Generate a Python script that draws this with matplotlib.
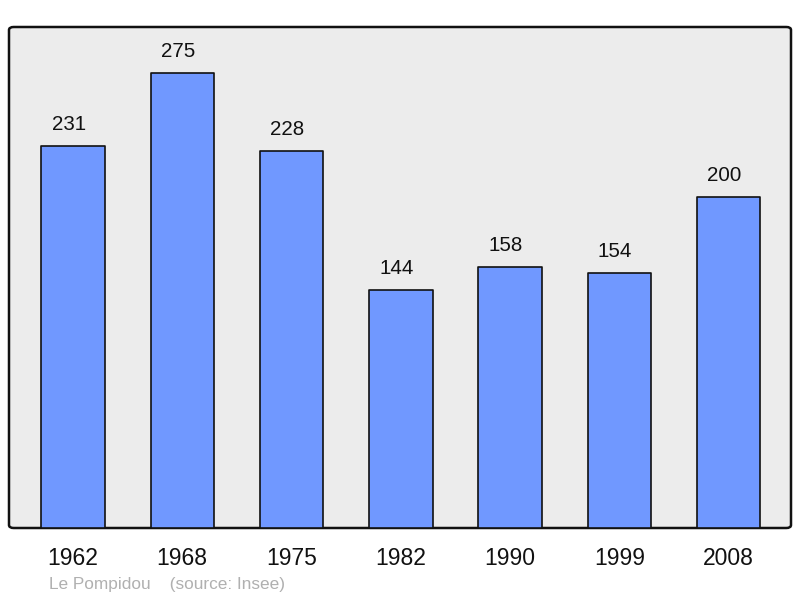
import matplotlib.pyplot as plt
from matplotlib.patches import FancyBboxPatch

years = ["1962", "1968", "1975", "1982", "1990", "1999", "2008"]
population = [231, 275, 228, 144, 158, 154, 200]

plt.rcParams['font.family'] = ['Liberation Sans', 'DejaVu Sans']

fig = plt.figure(figsize=(8, 5.98), dpi=100)
ax = fig.add_axes([9 / 800, 1 - 528 / 598, 782 / 800, 501 / 598])
ax.set_facecolor('none')

# rounded grey frame
frame = FancyBboxPatch((0, 0), 1, 1, boxstyle="round,pad=0,rounding_size=0.006",
                       transform=ax.transAxes, facecolor='#ececec',
                       edgecolor='#111111', linewidth=1.8, zorder=0, clip_on=False)
ax.add_patch(frame)

x = range(len(years))
bars = ax.bar(x, population, width=0.58, color='#7098ff', edgecolor='#111111',
              linewidth=1.2, zorder=2)
for b in bars:
    b.set_joinstyle('round')

for xi, v in zip(x, population):
    ax.text(xi - 0.04, v + 13, str(v), ha='center', va='center', fontsize=14.8,
            color='#111111')

ax.set_xlim(-0.585, 6.57)
ax.set_ylim(0, 302.8)
for s in ax.spines.values():
    s.set_visible(False)
ax.set_yticks([])
ax.set_xticks(list(x))
ax.set_xticklabels(years, fontsize=16.5, color='#111111')
ax.tick_params(axis='x', length=0, pad=14)

fig.text(49 / 800, 1 - 584 / 598, "Le Pompidou    (source: Insee)", fontsize=12.4,
         color='#b0b0b0', va='center', ha='left')

fig.savefig('out.png', dpi=100)
